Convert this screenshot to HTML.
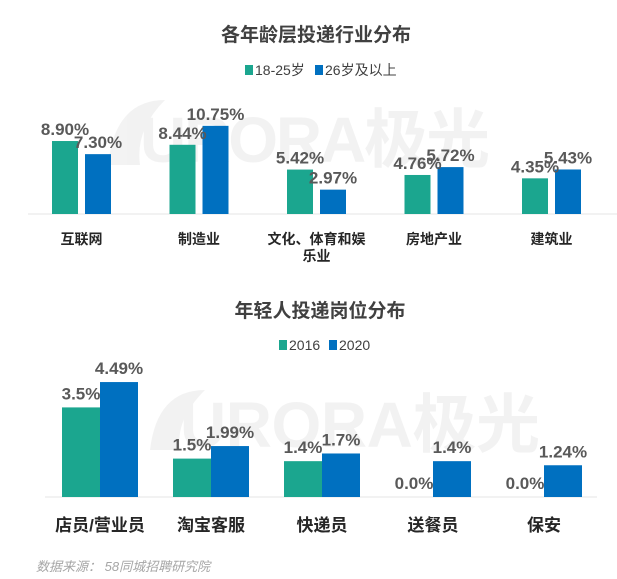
<!DOCTYPE html>
<html><head><meta charset="utf-8"><style>
body{margin:0;background:#fff;}
svg{display:block;font-family:"Liberation Sans","Noto Sans CJK SC",sans-serif;}
</style></head><body>
<svg width="617" height="579" viewBox="0 0 617 579">
<g opacity="0.1">
<path d="M108 165 Q115 100 165 100 Q135 130 140 165 Z" fill="#888"/>
<text x="140" y="162" font-size="64" font-weight="bold" fill="#888" textLength="350">URORA极光</text>
<path d="M150 450 Q157 390 205 390 Q175 420 180 450 Z" fill="#888"/>
<text x="180" y="447" font-size="64" font-weight="bold" fill="#888" textLength="360">URORA极光</text>
</g>
<text x="316" y="41" text-anchor="middle" font-size="19" font-weight="bold" fill="#404040">各年龄层投递行业分布</text>
<g>
<rect x="245" y="65" width="8" height="10" fill="#1ba68f"/>
<text x="255" y="75" font-size="14" fill="#404040">18-25岁</text>
<rect x="315" y="65" width="8" height="10" fill="#0070c0"/>
<text x="325" y="75" font-size="14" fill="#404040">26岁及以上</text>
</g>
<line x1="28" y1="214" x2="617" y2="214" stroke="#e6e6e6"/>
<g id="c1"></g>
<text x="320" y="317" text-anchor="middle" font-size="19" font-weight="bold" fill="#404040">年轻人投递岗位分布</text>
<g>
<rect x="279" y="340" width="8" height="10" fill="#1ba68f"/>
<text x="289" y="350" font-size="14" fill="#404040">2016</text>
<rect x="329" y="340" width="8" height="10" fill="#0070c0"/>
<text x="339" y="350" font-size="14" fill="#404040">2020</text>
</g>
<line x1="45" y1="497" x2="597" y2="497" stroke="#e6e6e6"/>
<g id="c2"></g>
<text x="36" y="571" font-size="13" font-style="italic" fill="#a6a6a6">数据来源： 58同城招聘研究院</text>
</svg>
<script>
const cats1=["互联网","制造业","文化、体育和娱|乐业","房地产业","建筑业"];
const young1=[8.90,8.44,5.42,4.76,4.35];
const old1=[7.30,10.75,2.97,5.72,5.43];
const cats2=["店员/营业员","淘宝客服","快递员","送餐员","保安"];
const y2016=[3.5,1.5,1.4,0.0,0.0];
const y2020=[4.49,1.99,1.7,1.4,1.24];
const lab2016=["3.5%","1.5%","1.4%","0.0%","0.0%"];
const lab2020=["4.49%","1.99%","1.7%","1.4%","1.24%"];
const NS="http://www.w3.org/2000/svg";
function mk(p,t,a,txt){const e=document.createElementNS(NS,t);for(const k in a)e.setAttribute(k,a[k]);if(txt!==undefined)e.textContent=txt;p.appendChild(e);return e;}
function draw(g,cats,s1,s2,l1,l2,o){
 const x=i=>o.x0+i*o.step, y=v=>o.base-v*o.k;
 cats.forEach((c,i)=>{
  const cx=x(i);
  const r1=mk(g,"rect",{x:cx-o.gap/2-o.w,y:y(s1[i]),width:o.w,height:o.base-y(s1[i]),fill:"#1ba68f"});
  
  
  const r2=mk(g,"rect",{x:cx+o.gap/2,y:y(s2[i]),width:o.w,height:o.base-y(s2[i]),fill:"#0070c0"});
  
  
  const t1=mk(g,"text",{x:cx-o.gap/2-o.w/2,y:y(s1[i])-o.lo,"text-anchor":"middle","font-size":o.fs,"font-weight":"bold",fill:"#595959"},l1[i]);
  
  
  const t2=mk(g,"text",{x:cx+o.gap/2+o.w/2,y:y(s2[i])-o.lo,"text-anchor":"middle","font-size":o.fs,"font-weight":"bold",fill:"#595959"},l2[i]);
  
  
  c.split("|").forEach((line,j)=>{
   const t=mk(g,"text",{x:cx,y:o.ly+j*17,"text-anchor":"middle","font-size":o.cfs,"font-weight":"bold",fill:"#262626"},line);
   
   
  });
 });
}
draw(document.getElementById("c1"),cats1,young1,old1,young1.map(v=>v.toFixed(2)+"%"),old1.map(v=>v.toFixed(2)+"%"),
 {x0:81.5,step:117.5,base:214,k:8.2,w:26,gap:7,lo:6,fs:17,cfs:14,ly:244,n1:"18-25",n2:"26plus"});
draw(document.getElementById("c2"),cats2,y2016,y2020,lab2016,lab2020,
 {x0:100,step:111,base:497,k:25.6,w:38,gap:0,lo:8,fs:17,cfs:17,ly:531,n1:"2016",n2:"2020"});
</script>
</body></html>
